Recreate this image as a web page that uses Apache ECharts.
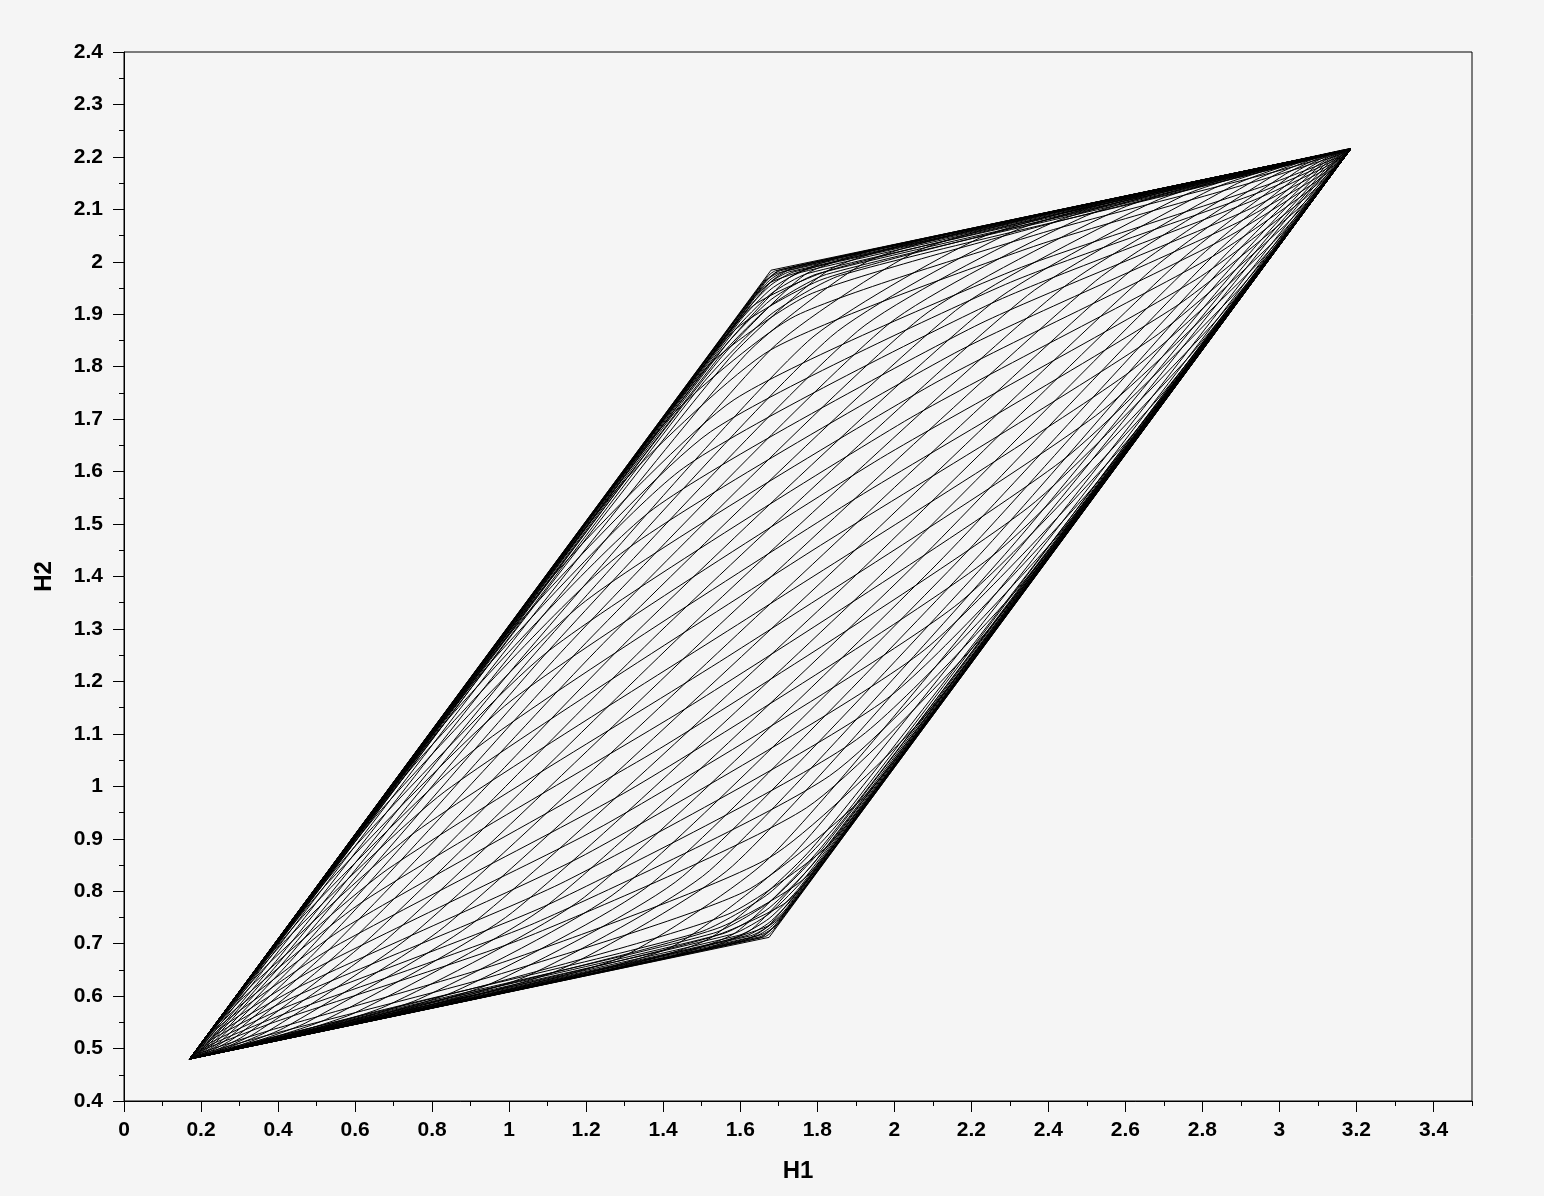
<!DOCTYPE html>
<html>
<head>
<meta charset="utf-8">
<title>H1 / H2</title>
<script src="https://cdn.jsdelivr.net/npm/echarts@6.0.0/dist/echarts.min.js"></script>
<style>
  html, body { margin: 0; padding: 0; background: #f5f5f5; }
  #chart { width: 1544px; height: 1196px; }
</style>
</head>
<body>
<div id="chart"></div>
<script>
// corners of the outer parallelogram (H1, H2)
const cornerA = [0.17, 0.48];
const cornerB = [1.675, 0.712];
const cornerC = [3.185, 2.215];
const cornerD = [1.68, 1.984];

const xTicks = [0, 0.2, 0.4, 0.6, 0.8, 1, 1.2, 1.4, 1.6, 1.8, 2, 2.2, 2.4, 2.6, 2.8, 3, 3.2, 3.4];

// curves leaving A along the left edge (H2 rising early)
const climbFirst = [
  [[0.174,0.481],[0.197,0.484],[0.349,0.508],[0.924,0.597],[1.500,0.689],[1.658,0.718],[1.700,0.739]],
  [[0.174,0.481],[0.197,0.484],[0.350,0.509],[0.926,0.600],[1.506,0.695],[1.676,0.735],[1.743,0.783]],
  [[0.174,0.481],[0.198,0.485],[0.353,0.511],[0.933,0.606],[1.523,0.712],[1.720,0.779],[1.851,0.891]],
  [[0.175,0.482],[0.199,0.486],[0.355,0.513],[0.939,0.613],[1.540,0.729],[1.763,0.822],[1.947,0.986]],
  [[0.175,0.482],[0.201,0.488],[0.359,0.517],[0.950,0.623],[1.568,0.756],[1.828,0.887],[2.077,1.116]],
  [[0.176,0.483],[0.203,0.490],[0.366,0.524],[0.967,0.640],[1.611,0.799],[1.924,0.982],[2.241,1.279]],
  [[0.177,0.484],[0.207,0.494],[0.376,0.534],[0.994,0.667],[1.676,0.864],[2.054,1.113],[2.426,1.463]],
  [[0.180,0.487],[0.213,0.500],[0.393,0.551],[1.037,0.710],[1.772,0.959],[2.218,1.276],[2.611,1.648]],
  [[0.182,0.488],[0.218,0.505],[0.405,0.563],[1.066,0.739],[1.832,1.020],[2.309,1.367],[2.697,1.733]],
  [[0.184,0.491],[0.224,0.511],[0.421,0.579],[1.103,0.775],[1.902,1.089],[2.403,1.460],[2.775,1.811]],
  [[0.187,0.494],[0.231,0.519],[0.440,0.598],[1.146,0.819],[1.981,1.167],[2.497,1.554],[2.845,1.881]],
  [[0.190,0.497],[0.241,0.528],[0.464,0.621],[1.198,0.870],[2.066,1.253],[2.588,1.644],[2.906,1.941]],
  [[0.195,0.502],[0.253,0.540],[0.493,0.651],[1.259,0.931],[2.157,1.343],[2.674,1.730],[2.958,1.993]],
  [[0.201,0.508],[0.268,0.555],[0.529,0.687],[1.329,1.000],[2.251,1.437],[2.752,1.808],[3.001,2.036]],
  [[0.208,0.515],[0.288,0.574],[0.572,0.730],[1.407,1.079],[2.345,1.530],[2.822,1.877],[3.038,2.072]],
  [[0.218,0.525],[0.311,0.598],[0.624,0.782],[1.493,1.164],[2.436,1.621],[2.883,1.938],[3.067,2.101]],
  [[0.230,0.537],[0.341,0.627],[0.685,0.842],[1.584,1.255],[2.522,1.706],[2.935,1.990],[3.091,2.125]],
  [[0.245,0.552],[0.377,0.663],[0.755,0.912],[1.678,1.348],[2.600,1.784],[2.978,2.033],[3.110,2.144]],
  [[0.264,0.571],[0.420,0.707],[0.833,0.990],[1.771,1.442],[2.670,1.854],[3.014,2.069],[3.125,2.159]],
  [[0.288,0.595],[0.472,0.758],[0.919,1.075],[1.863,1.532],[2.731,1.915],[3.044,2.098],[3.137,2.171]],
  [[0.318,0.624],[0.533,0.819],[1.010,1.166],[1.948,1.618],[2.783,1.966],[3.068,2.122],[3.147,2.181]],
  [[0.354,0.660],[0.603,0.888],[1.104,1.259],[2.027,1.696],[2.826,2.010],[3.087,2.141],[3.154,2.188]],
  [[0.397,0.703],[0.681,0.966],[1.198,1.353],[2.096,1.765],[2.862,2.046],[3.102,2.156],[3.160,2.194]],
  [[0.449,0.755],[0.767,1.052],[1.289,1.443],[2.157,1.826],[2.892,2.075],[3.114,2.168],[3.165,2.199]],
  [[0.510,0.816],[0.858,1.142],[1.375,1.529],[2.209,1.877],[2.915,2.098],[3.124,2.178],[3.168,2.203]],
  [[0.580,0.885],[0.952,1.236],[1.453,1.607],[2.253,1.921],[2.935,2.118],[3.131,2.185],[3.171,2.205]],
  [[0.658,0.963],[1.046,1.329],[1.523,1.676],[2.289,1.957],[2.950,2.133],[3.137,2.191],[3.174,2.208]],
  [[0.744,1.048],[1.137,1.420],[1.584,1.737],[2.318,1.986],[2.962,2.145],[3.142,2.196],[3.175,2.209]],
  [[0.929,1.233],[1.301,1.584],[1.679,1.832],[2.361,2.029],[2.979,2.162],[3.148,2.202],[3.178,2.212]],
  [[1.114,1.417],[1.431,1.714],[1.744,1.897],[2.388,2.056],[2.990,2.172],[3.152,2.206],[3.179,2.213]],
  [[1.278,1.580],[1.527,1.809],[1.787,1.940],[2.405,2.073],[2.996,2.179],[3.155,2.208],[3.180,2.214]],
  [[1.408,1.710],[1.592,1.874],[1.815,1.967],[2.416,2.084],[3.000,2.183],[3.156,2.210],[3.181,2.215]],
  [[1.504,1.805],[1.635,1.917],[1.832,1.984],[2.422,2.090],[3.002,2.185],[3.157,2.211],[3.181,2.215]],
  [[1.612,1.913],[1.680,1.961],[1.849,2.001],[2.429,2.096],[3.005,2.187],[3.158,2.212],[3.181,2.215]],
  [[1.656,1.958],[1.697,1.978],[1.855,2.007],[2.431,2.099],[3.006,2.188],[3.158,2.212],[3.181,2.215]]
];

// curves leaving A along the bottom edge (H1 rising early)
const runFirst = [
  [[0.174,0.484],[0.197,0.507],[0.350,0.659],[0.926,1.232],[1.514,1.810],[1.663,1.959],[1.704,1.985]],
  [[0.174,0.484],[0.198,0.507],[0.351,0.659],[0.929,1.233],[1.510,1.807],[1.680,1.962],[1.748,1.992]],
  [[0.174,0.484],[0.198,0.507],[0.354,0.659],[0.935,1.234],[1.527,1.810],[1.724,1.968],[1.856,2.008]],
  [[0.175,0.484],[0.199,0.507],[0.356,0.660],[0.942,1.235],[1.544,1.812],[1.767,1.975],[1.951,2.023]],
  [[0.175,0.484],[0.201,0.507],[0.360,0.660],[0.952,1.236],[1.572,1.816],[1.832,1.985],[2.081,2.043]],
  [[0.176,0.484],[0.203,0.508],[0.366,0.661],[0.969,1.239],[1.614,1.823],[1.928,2.000],[2.245,2.068]],
  [[0.177,0.484],[0.207,0.508],[0.377,0.663],[0.996,1.243],[1.680,1.833],[2.058,2.020],[2.429,2.097]],
  [[0.180,0.484],[0.214,0.509],[0.394,0.666],[1.039,1.250],[1.775,1.848],[2.221,2.045],[2.613,2.125]],
  [[0.181,0.485],[0.218,0.510],[0.406,0.667],[1.068,1.254],[1.835,1.857],[2.312,2.059],[2.699,2.138]],
  [[0.184,0.485],[0.224,0.511],[0.421,0.670],[1.104,1.260],[1.905,1.868],[2.406,2.073],[2.777,2.150]],
  [[0.187,0.486],[0.232,0.512],[0.440,0.673],[1.148,1.266],[1.983,1.880],[2.499,2.088],[2.846,2.161]],
  [[0.190,0.486],[0.241,0.514],[0.464,0.676],[1.200,1.274],[2.068,1.893],[2.590,2.102],[2.907,2.170]],
  [[0.195,0.487],[0.253,0.515],[0.493,0.681],[1.260,1.284],[2.159,1.907],[2.675,2.115],[2.959,2.178]],
  [[0.201,0.488],[0.268,0.518],[0.529,0.686],[1.330,1.294],[2.253,1.921],[2.753,2.127],[3.002,2.185]],
  [[0.208,0.489],[0.288,0.521],[0.573,0.693],[1.408,1.306],[2.346,1.936],[2.823,2.138],[3.038,2.190]],
  [[0.218,0.490],[0.311,0.524],[0.624,0.701],[1.493,1.320],[2.437,1.950],[2.884,2.147],[3.067,2.195]],
  [[0.230,0.492],[0.340,0.529],[0.685,0.710],[1.584,1.334],[2.522,1.963],[2.935,2.155],[3.091,2.199]],
  [[0.245,0.495],[0.376,0.534],[0.755,0.721],[1.678,1.348],[2.601,1.975],[2.979,2.162],[3.110,2.202]],
  [[0.264,0.497],[0.420,0.541],[0.833,0.733],[1.771,1.362],[2.670,1.986],[3.015,2.167],[3.125,2.204]],
  [[0.288,0.501],[0.472,0.549],[0.918,0.746],[1.862,1.376],[2.731,1.995],[3.044,2.172],[3.137,2.206]],
  [[0.317,0.506],[0.532,0.558],[1.009,0.760],[1.947,1.390],[2.783,2.003],[3.068,2.175],[3.147,2.207]],
  [[0.353,0.511],[0.602,0.569],[1.102,0.775],[2.025,1.402],[2.826,2.010],[3.087,2.178],[3.154,2.208]],
  [[0.396,0.518],[0.680,0.581],[1.196,0.789],[2.095,1.412],[2.862,2.015],[3.102,2.181],[3.160,2.209]],
  [[0.448,0.526],[0.765,0.594],[1.287,0.803],[2.156,1.422],[2.891,2.020],[3.114,2.183],[3.165,2.210]],
  [[0.509,0.535],[0.856,0.608],[1.372,0.816],[2.207,1.430],[2.915,2.023],[3.123,2.184],[3.169,2.211]],
  [[0.578,0.546],[0.950,0.623],[1.450,0.828],[2.251,1.436],[2.934,2.026],[3.131,2.185],[3.171,2.211]],
  [[0.656,0.558],[1.043,0.637],[1.520,0.839],[2.287,1.442],[2.949,2.029],[3.137,2.186],[3.174,2.211]],
  [[0.742,0.571],[1.134,0.651],[1.580,0.848],[2.316,1.446],[2.961,2.031],[3.141,2.187],[3.175,2.212]],
  [[0.926,0.600],[1.297,0.676],[1.675,0.863],[2.359,1.453],[2.978,2.033],[3.148,2.188],[3.178,2.212]],
  [[1.111,0.628],[1.428,0.696],[1.741,0.873],[2.386,1.457],[2.989,2.035],[3.152,2.188],[3.179,2.212]],
  [[1.274,0.653],[1.523,0.711],[1.784,0.880],[2.403,1.460],[2.995,2.036],[3.154,2.189],[3.180,2.212]],
  [[1.404,0.673],[1.588,0.721],[1.811,0.884],[2.413,1.461],[2.999,2.036],[3.156,2.189],[3.181,2.212]],
  [[1.499,0.688],[1.631,0.728],[1.828,0.887],[2.420,1.462],[3.001,2.037],[3.157,2.189],[3.181,2.212]],
  [[1.607,0.705],[1.675,0.735],[1.845,0.889],[2.426,1.463],[3.004,2.037],[3.158,2.189],[3.181,2.213]],
  [[1.652,0.711],[1.692,0.737],[1.851,0.890],[2.429,1.464],[3.005,2.037],[3.158,2.189],[3.181,2.213]]
];

// tight curves hugging the outline through corner D and through corner B
const edgeHuggers = [
  [[0.624,0.931],[1.668,1.969],[1.680,1.978],[1.692,1.983],[2.732,2.145]],
  [[0.625,0.932],[1.656,1.955],[1.680,1.973],[1.704,1.983],[2.731,2.144]],
  [[0.627,0.932],[1.644,1.940],[1.680,1.967],[1.716,1.982],[2.730,2.143]],
  [[0.628,0.932],[1.632,1.926],[1.680,1.962],[1.728,1.981],[2.729,2.142]],
  [[0.629,0.932],[1.620,1.911],[1.680,1.956],[1.740,1.981],[2.727,2.140]],
  [[0.631,0.932],[1.601,1.889],[1.680,1.948],[1.758,1.980],[2.726,2.139]],
  [[0.633,0.933],[1.583,1.867],[1.680,1.939],[1.776,1.978],[2.724,2.137]],
  [[0.635,0.933],[1.559,1.838],[1.680,1.928],[1.800,1.977],[2.721,2.134]],
  [[0.637,0.933],[1.535,1.809],[1.680,1.917],[1.824,1.976],[2.719,2.132]],
  [[0.641,0.934],[1.499,1.765],[1.680,1.900],[1.860,1.974],[2.715,2.128]],
  [[0.623,0.551],[1.663,0.713],[1.675,0.718],[1.687,0.727],[2.731,1.765]],
  [[0.624,0.552],[1.651,0.713],[1.675,0.723],[1.699,0.741],[2.730,1.764]],
  [[0.625,0.553],[1.639,0.714],[1.675,0.729],[1.711,0.756],[2.728,1.764]],
  [[0.626,0.554],[1.627,0.715],[1.675,0.734],[1.723,0.770],[2.727,1.764]],
  [[0.628,0.556],[1.615,0.715],[1.675,0.740],[1.735,0.785],[2.726,1.764]],
  [[0.629,0.557],[1.597,0.716],[1.675,0.748],[1.754,0.807],[2.724,1.764]],
  [[0.631,0.559],[1.579,0.718],[1.675,0.757],[1.772,0.829],[2.722,1.763]],
  [[0.634,0.562],[1.555,0.719],[1.675,0.768],[1.796,0.858],[2.720,1.763]],
  [[0.636,0.564],[1.531,0.720],[1.675,0.779],[1.820,0.887],[2.718,1.763]],
  [[0.640,0.568],[1.495,0.722],[1.675,0.796],[1.856,0.931],[2.714,1.762]]
];

const labelFont = { color: '#000', fontFamily: 'Liberation Sans', fontWeight: 'bold', fontSize: 21 };
const nameFont = { color: '#000', fontFamily: 'Liberation Sans', fontWeight: 'bold', fontSize: 24 };
const black = { color: '#000', width: 1 };

const series = [];
climbFirst.concat(runFirst, edgeHuggers).forEach(pts => {
  series.push({
    type: 'line',
    data: [cornerA].concat(pts, [cornerC]),
    smooth: 0.2,
    symbol: 'none',
    silent: true,
    lineStyle: black
  });
});
// outer edges
series.push({ type: 'line', data: [cornerA, cornerB, cornerC], symbol: 'none', silent: true, lineStyle: black });
series.push({ type: 'line', data: [cornerA, cornerD, cornerC], symbol: 'none', silent: true, lineStyle: black });

const chart = echarts.init(document.getElementById('chart'));
chart.setOption({
  backgroundColor: '#f5f5f5',
  animation: false,
  grid: {
    left: 124, top: 52, right: 72, bottom: 95,
    show: true, borderColor: '#000', borderWidth: 1, backgroundColor: 'transparent',
    outerBoundsMode: 'none'
  },
  xAxis: [
    {
      type: 'value', min: 0, max: 3.5, interval: 0.2, position: 'bottom',
      name: 'H1', nameLocation: 'middle', nameGap: 58, nameTextStyle: nameFont,
      axisLine: { show: true, onZero: false, lineStyle: black },
      axisTick: { show: true, inside: false, length: 11, customValues: xTicks, lineStyle: black },
      axisLabel: Object.assign({ margin: 19, customValues: xTicks }, labelFont),
      splitLine: { show: false }
    },
    {
      type: 'value', min: 0, max: 3.5, interval: 0.1, position: 'bottom',
      axisLine: { show: false },
      axisTick: { show: true, inside: false, length: 5, lineStyle: black },
      axisLabel: { show: false },
      splitLine: { show: false }
    }
  ],
  yAxis: {
    type: 'value', min: 0.4, max: 2.4, interval: 0.1,
    name: 'H2', nameLocation: 'middle', nameGap: 68, nameTextStyle: nameFont,
    axisLine: { show: true, onZero: false, lineStyle: black },
    axisTick: { show: true, inside: false, length: 11, lineStyle: black },
    minorTick: { show: true, splitNumber: 2, length: 5, lineStyle: black },
    axisLabel: Object.assign({ margin: 21 }, labelFont),
    splitLine: { show: false },
    minorSplitLine: { show: false }
  },
  series: series
});
</script>
</body>
</html>
